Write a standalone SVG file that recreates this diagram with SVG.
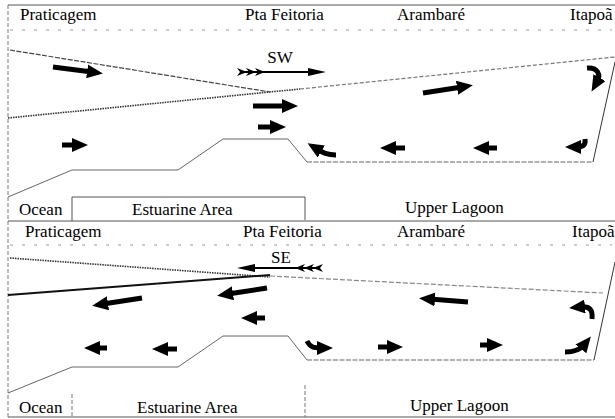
<svg xmlns="http://www.w3.org/2000/svg" width="615" height="419" viewBox="0 0 615 419">
<defs>
<style>
.lbl{font-family:'Liberation Serif','DejaVu Serif',serif;font-size:17px;fill:#000}
.frame{stroke:#555;stroke-width:1;fill:none}
.vdash{stroke:#777;stroke-width:1;stroke-dasharray:4,2;fill:none}
.prof{stroke:#666;stroke-width:1;fill:none}
.pdash{stroke:#444;stroke-width:1.2;stroke-dasharray:5,1.5;fill:none}
.dot{stroke:#333;stroke-width:1.6;stroke-dasharray:1.5,1;fill:none}
.faint{stroke:#999;stroke-width:1;stroke-dasharray:3,9;fill:none}
.arr{stroke:#000;stroke-width:5;fill:none;marker-end:url(#ah)}
.wind{stroke:#000;stroke-width:2;fill:none}
.fl{fill:#000}
</style>
<marker id="ah" markerUnits="userSpaceOnUse" markerWidth="16" markerHeight="14" refX="5" refY="7" orient="auto">
<path d="M0,0 L16,7 L0,14 z" fill="#000"/>
</marker>
</defs>
<rect width="615" height="419" fill="#fff"/>

<g id="frame">
<line class="frame" x1="8" y1="5" x2="615" y2="5"/>
<line class="vdash" x1="8" y1="5" x2="8" y2="419"/>
<line class="frame" x1="8" y1="221" x2="615" y2="221"/>
<line class="frame" x1="8" y1="417" x2="615" y2="417"/>
<polyline class="frame" points="72,221 72,197 305,197 305,220"/>
<line class="vdash" x1="72" y1="394" x2="72" y2="417"/>
<line class="vdash" x1="305" y1="385" x2="305" y2="417"/>
<line class="faint" x1="10" y1="30" x2="612" y2="30"/>
<line class="faint" x1="10" y1="245" x2="612" y2="245"/>
</g>

<g id="top-panel">
<line class="pdash" x1="10" y1="50" x2="270" y2="92"/>
<line class="dot" x1="8" y1="118" x2="300" y2="89"/>
<line class="pdash" x1="300" y1="89" x2="615" y2="57" style="stroke:#777;stroke-dasharray:4,2"/>
<polyline class="prof" points="8,197 72,170 178,170 223,139 288,139 307,162"/>
<line class="pdash" x1="307" y1="162" x2="593" y2="162" style="stroke:#666"/>
<line class="frame" x1="593" y1="162" x2="615" y2="62" style="stroke:#333"/>
</g>

<g id="bottom-panel">
<line class="dot" x1="10" y1="258" x2="270" y2="277"/>
<line x1="8" y1="295" x2="270" y2="275" stroke="#111" stroke-width="2"/>
<line class="pdash" x1="270" y1="276" x2="603" y2="293" style="stroke:#888;stroke-dasharray:5,2"/>
<polyline class="prof" points="8,393 72,367 178,367 223,336 288,336 307,360"/>
<line class="pdash" x1="307" y1="360" x2="594" y2="360" style="stroke:#666"/>
<line class="frame" x1="594" y1="360" x2="615" y2="262" style="stroke:#333"/>
</g>

<g id="connectors">
<line class="arr" x1="53" y1="67" x2="92" y2="72"/>
<line class="arr" x1="253" y1="106" x2="287" y2="106"/>
<line class="arr" x1="258" y1="127" x2="275" y2="127"/>
<line class="arr" x1="62" y1="145" x2="77" y2="145"/>
<line class="arr" x1="423" y1="93" x2="462" y2="87"/>
<path class="arr" d="M587,68 C598,67 601,75 597,82"/>
<path class="arr" d="M585,139 C586,146 582,147 576,147"/>
<line class="arr" x1="405" y1="148" x2="391" y2="148"/>
<line class="arr" x1="497" y1="148" x2="484" y2="148"/>
<path class="arr" d="M336,155 C326,155 322,152 317,149"/>
<line class="wind" x1="244" y1="72" x2="312" y2="72"/>
<path class="fl" d="M308,68 L326,72 L308,76 z"/>
<path class="fl" d="M237,68 L247,72 L237,76 L240,72 z M246,68 L256,72 L246,76 L249,72 z M255,68 L265,72 L255,76 L258,72 z"/>
<line class="arr" x1="267" y1="288" x2="228" y2="294"/>
<line class="arr" x1="142" y1="298" x2="103" y2="304"/>
<line class="arr" x1="265" y1="318" x2="252" y2="318"/>
<line class="arr" x1="107" y1="348" x2="95" y2="348"/>
<line class="arr" x1="177" y1="349" x2="163" y2="349"/>
<line class="arr" x1="468" y1="302" x2="430" y2="299"/>
<path class="arr" d="M592,319 C593,310 590,306 580,307"/>
<path class="arr" d="M565,352 C575,352 580,350 584,345"/>
<line class="arr" x1="480" y1="345" x2="492" y2="345"/>
<line class="arr" x1="378" y1="347" x2="392" y2="347"/>
<path class="arr" d="M307,341 C310,347 313,348 322,348"/>
<line class="wind" x1="250" y1="268" x2="318" y2="268"/>
<path class="fl" d="M255,264 L237,268 L255,272 z"/>
<path class="fl" d="M305,264 L295,268 L305,272 L302,268 z M314,264 L304,268 L314,272 L311,268 z M323,264 L313,268 L323,272 L320,268 z"/>
</g>

<g id="labels-top" font-family="Liberation Serif, DejaVu Serif, serif" font-size="17">
<text class="lbl" x="20" y="20">Praticagem</text>
<text class="lbl" x="245" y="20">Pta Feitoria</text>
<text class="lbl" x="397" y="20">Arambaré</text>
<text class="lbl" x="570" y="20">Itapoã</text>
<text class="lbl" x="280" y="63" text-anchor="middle">SW</text>
<text class="lbl" x="19" y="215">Ocean</text>
<text class="lbl" x="132" y="215">Estuarine Area</text>
<text class="lbl" x="405" y="213">Upper Lagoon</text>
</g>

<g id="labels-bottom" font-family="Liberation Serif, DejaVu Serif, serif" font-size="17">
<text class="lbl" x="25" y="237">Praticagem</text>
<text class="lbl" x="243" y="237">Pta Feitoria</text>
<text class="lbl" x="397" y="237">Arambaré</text>
<text class="lbl" x="572" y="237">Itapoã</text>
<text class="lbl" x="281" y="263" text-anchor="middle">SE</text>
<text class="lbl" x="19" y="413">Ocean</text>
<text class="lbl" x="137" y="413">Estuarine Area</text>
<text class="lbl" x="410" y="411">Upper Lagoon</text>
</g>
</svg>
